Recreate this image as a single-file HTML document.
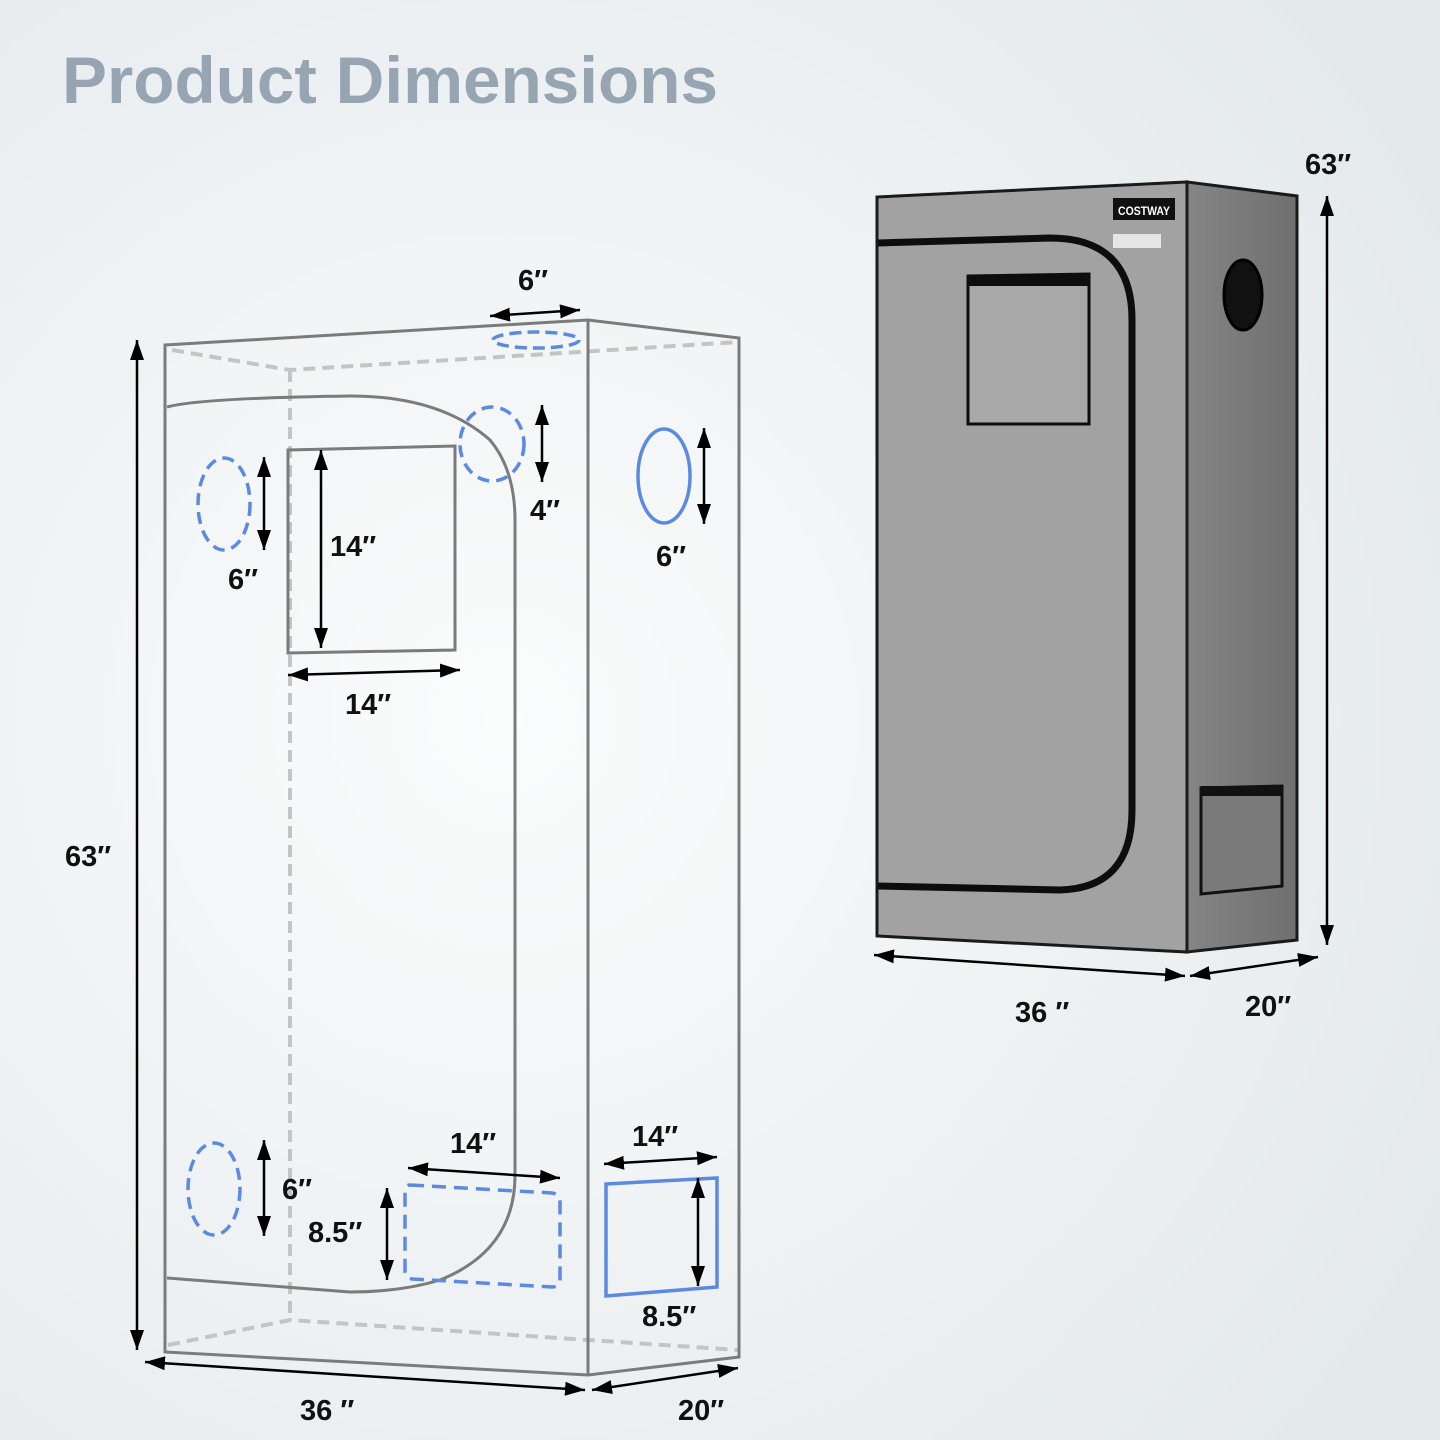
<!DOCTYPE html>
<html><head><meta charset="utf-8"><style>
html,body{margin:0;padding:0;width:1440px;height:1440px;overflow:hidden;background:#eceff1;}
svg{display:block}
.t{font-family:"Liberation Sans",sans-serif;font-weight:bold;font-size:29px;fill:#111;}
</style></head><body>
<svg width="1440" height="1440" viewBox="0 0 1440 1440" xmlns="http://www.w3.org/2000/svg">
<defs>
<radialGradient id="bg" cx="0.35" cy="0.5" r="0.75">
<stop offset="0" stop-color="#fbfcfc"/><stop offset="1" stop-color="#e4e9ec"/>
</radialGradient>
<linearGradient id="side" x1="0" y1="0" x2="1" y2="0">
<stop offset="0" stop-color="#858585"/><stop offset="1" stop-color="#6f6f6f"/>
</linearGradient>
<marker id="ah" viewBox="0 0 10 7" refX="10" refY="3.5" markerWidth="8" markerHeight="5.6" orient="auto-start-reverse" markerUnits="strokeWidth">
<path d="M0,0 L10,3.5 L0,7 Z" fill="#000"/></marker>
</defs>
<rect width="1440" height="1440" fill="url(#bg)"/>
<text x="62" y="103" font-family="Liberation Sans,sans-serif" font-weight="bold" font-size="66" fill="#97a5b3" textLength="656" lengthAdjust="spacingAndGlyphs">Product Dimensions</text>

<!-- LEFT TENT -->
<g fill="none" stroke="#c4c4c4" stroke-width="4" stroke-dasharray="12,7">
<path d="M172,350 L290,370 L738,342"/>
<path d="M290,370 L290,1320"/>
<path d="M168,1345 L290,1320 L738,1350"/>
</g>
<g fill="none" stroke="#7b7b7b" stroke-width="3">
<path d="M165,345 L588,320 L739,338 L739,1357 L588,1375 L165,1352 Z"/>
<path d="M588,320 L588,1375"/>
<path d="M167,407 Q200,398 350,396 Q440,396 490,440 Q515,470 515,520 L515,1175 Q515,1250 440,1280 Q400,1292 350,1292 L167,1278"/>
<path d="M288,450 L455,446 L455,650 L288,653 Z"/>
</g>
<g fill="none" stroke="#5b8ae0" stroke-width="3.5">
<ellipse cx="536" cy="340" rx="43" ry="8" stroke-dasharray="12,6"/>
<ellipse cx="492" cy="444" rx="32" ry="37" stroke-dasharray="12,7"/>
<ellipse cx="224" cy="504" rx="26" ry="46" stroke-dasharray="12,7"/>
<ellipse cx="664" cy="476" rx="26" ry="47"/>
<ellipse cx="214" cy="1189" rx="26" ry="46" stroke-dasharray="12,7"/>
<path d="M410,1185 L552,1193 Q560,1194 560,1202 L560,1280 Q560,1287 552,1287 L412,1279 Q405,1278 405,1271 L405,1192 Q405,1185 410,1185 Z" stroke-dasharray="14,8"/>
<path d="M606,1184 L717,1178 L717,1287 L606,1296 Z"/>
</g>
<g stroke="#000" stroke-width="2.5" marker-start="url(#ah)" marker-end="url(#ah)" fill="none">
<path d="M137,340 L137,1350"/>
<path d="M490,316 L580,310"/>
<path d="M542,405 L542,482"/>
<path d="M704,428 L704,524"/>
<path d="M264,457 L264,550"/>
<path d="M321,450 L321,648"/>
<path d="M288,675 L460,670"/>
<path d="M264,1140 L264,1236"/>
<path d="M408,1168 L560,1178"/>
<path d="M387,1188 L387,1280"/>
<path d="M604,1164 L717,1157"/>
<path d="M698,1178 L698,1286"/>
<path d="M145,1362 L585,1390"/>
<path d="M592,1390 L738,1368"/>
</g>
<text class="t" x="518" y="290">6″</text>
<text class="t" x="530" y="520">4″</text>
<text class="t" x="656" y="566">6″</text>
<text class="t" x="228" y="589">6″</text>
<text class="t" x="330" y="556">14″</text>
<text class="t" x="345" y="714">14″</text>
<text class="t" x="65" y="866">63″</text>
<text class="t" x="282" y="1199">6″</text>
<text class="t" x="450" y="1153">14″</text>
<text class="t" x="308" y="1242">8.5″</text>
<text class="t" x="632" y="1146">14″</text>
<text class="t" x="642" y="1326">8.5″</text>
<text class="t" x="300" y="1420">36  ″</text>
<text class="t" x="678" y="1420">20″</text>

<!-- RIGHT TENT -->
<path d="M877,197 L1187,182 L1187,952 L877,936 Z" fill="#a2a2a2" stroke="#1a1a1a" stroke-width="3"/>
<path d="M1187,182 L1297,196 L1297,940 L1187,952 Z" fill="url(#side)" stroke="#1a1a1a" stroke-width="3"/>
<path d="M878,243 L1050,238 Q1132,238 1132,320 L1132,810 Q1132,888 1060,890 L878,886" fill="none" stroke="#0d0d0d" stroke-width="7"/>
<path d="M968,276 L1089,274 L1089,424 L968,424 Z" fill="#a8a8a8" stroke="#0d0d0d" stroke-width="3"/>
<rect x="968" y="275" width="121" height="11" fill="#0d0d0d"/>
<rect x="1113" y="198" width="62" height="22" fill="#111"/>
<text x="1118" y="215" font-family="Liberation Sans,sans-serif" font-weight="bold" font-size="12" fill="#fff" textLength="52" lengthAdjust="spacingAndGlyphs">COSTWAY</text>
<rect x="1113" y="234" width="48" height="14" fill="#e6e6e6"/>
<ellipse cx="1243" cy="295" rx="19" ry="35" fill="#111" stroke="#000" stroke-width="3"/>
<path d="M1201,788 L1282,786 L1282,886 L1201,894 Z" fill="#7a7a7a" stroke="#111" stroke-width="3"/>
<rect x="1201" y="786" width="81" height="10" fill="#111"/>
<g stroke="#000" stroke-width="2.5" marker-start="url(#ah)" marker-end="url(#ah)" fill="none">
<path d="M1327,196 L1327,945"/>
<path d="M874,955 L1185,976"/>
<path d="M1190,976 L1318,957"/>
</g>
<text class="t" x="1305" y="174">63″</text>
<text class="t" x="1015" y="1022">36  ″</text>
<text class="t" x="1245" y="1016">20″</text>
</svg>
</body></html>
